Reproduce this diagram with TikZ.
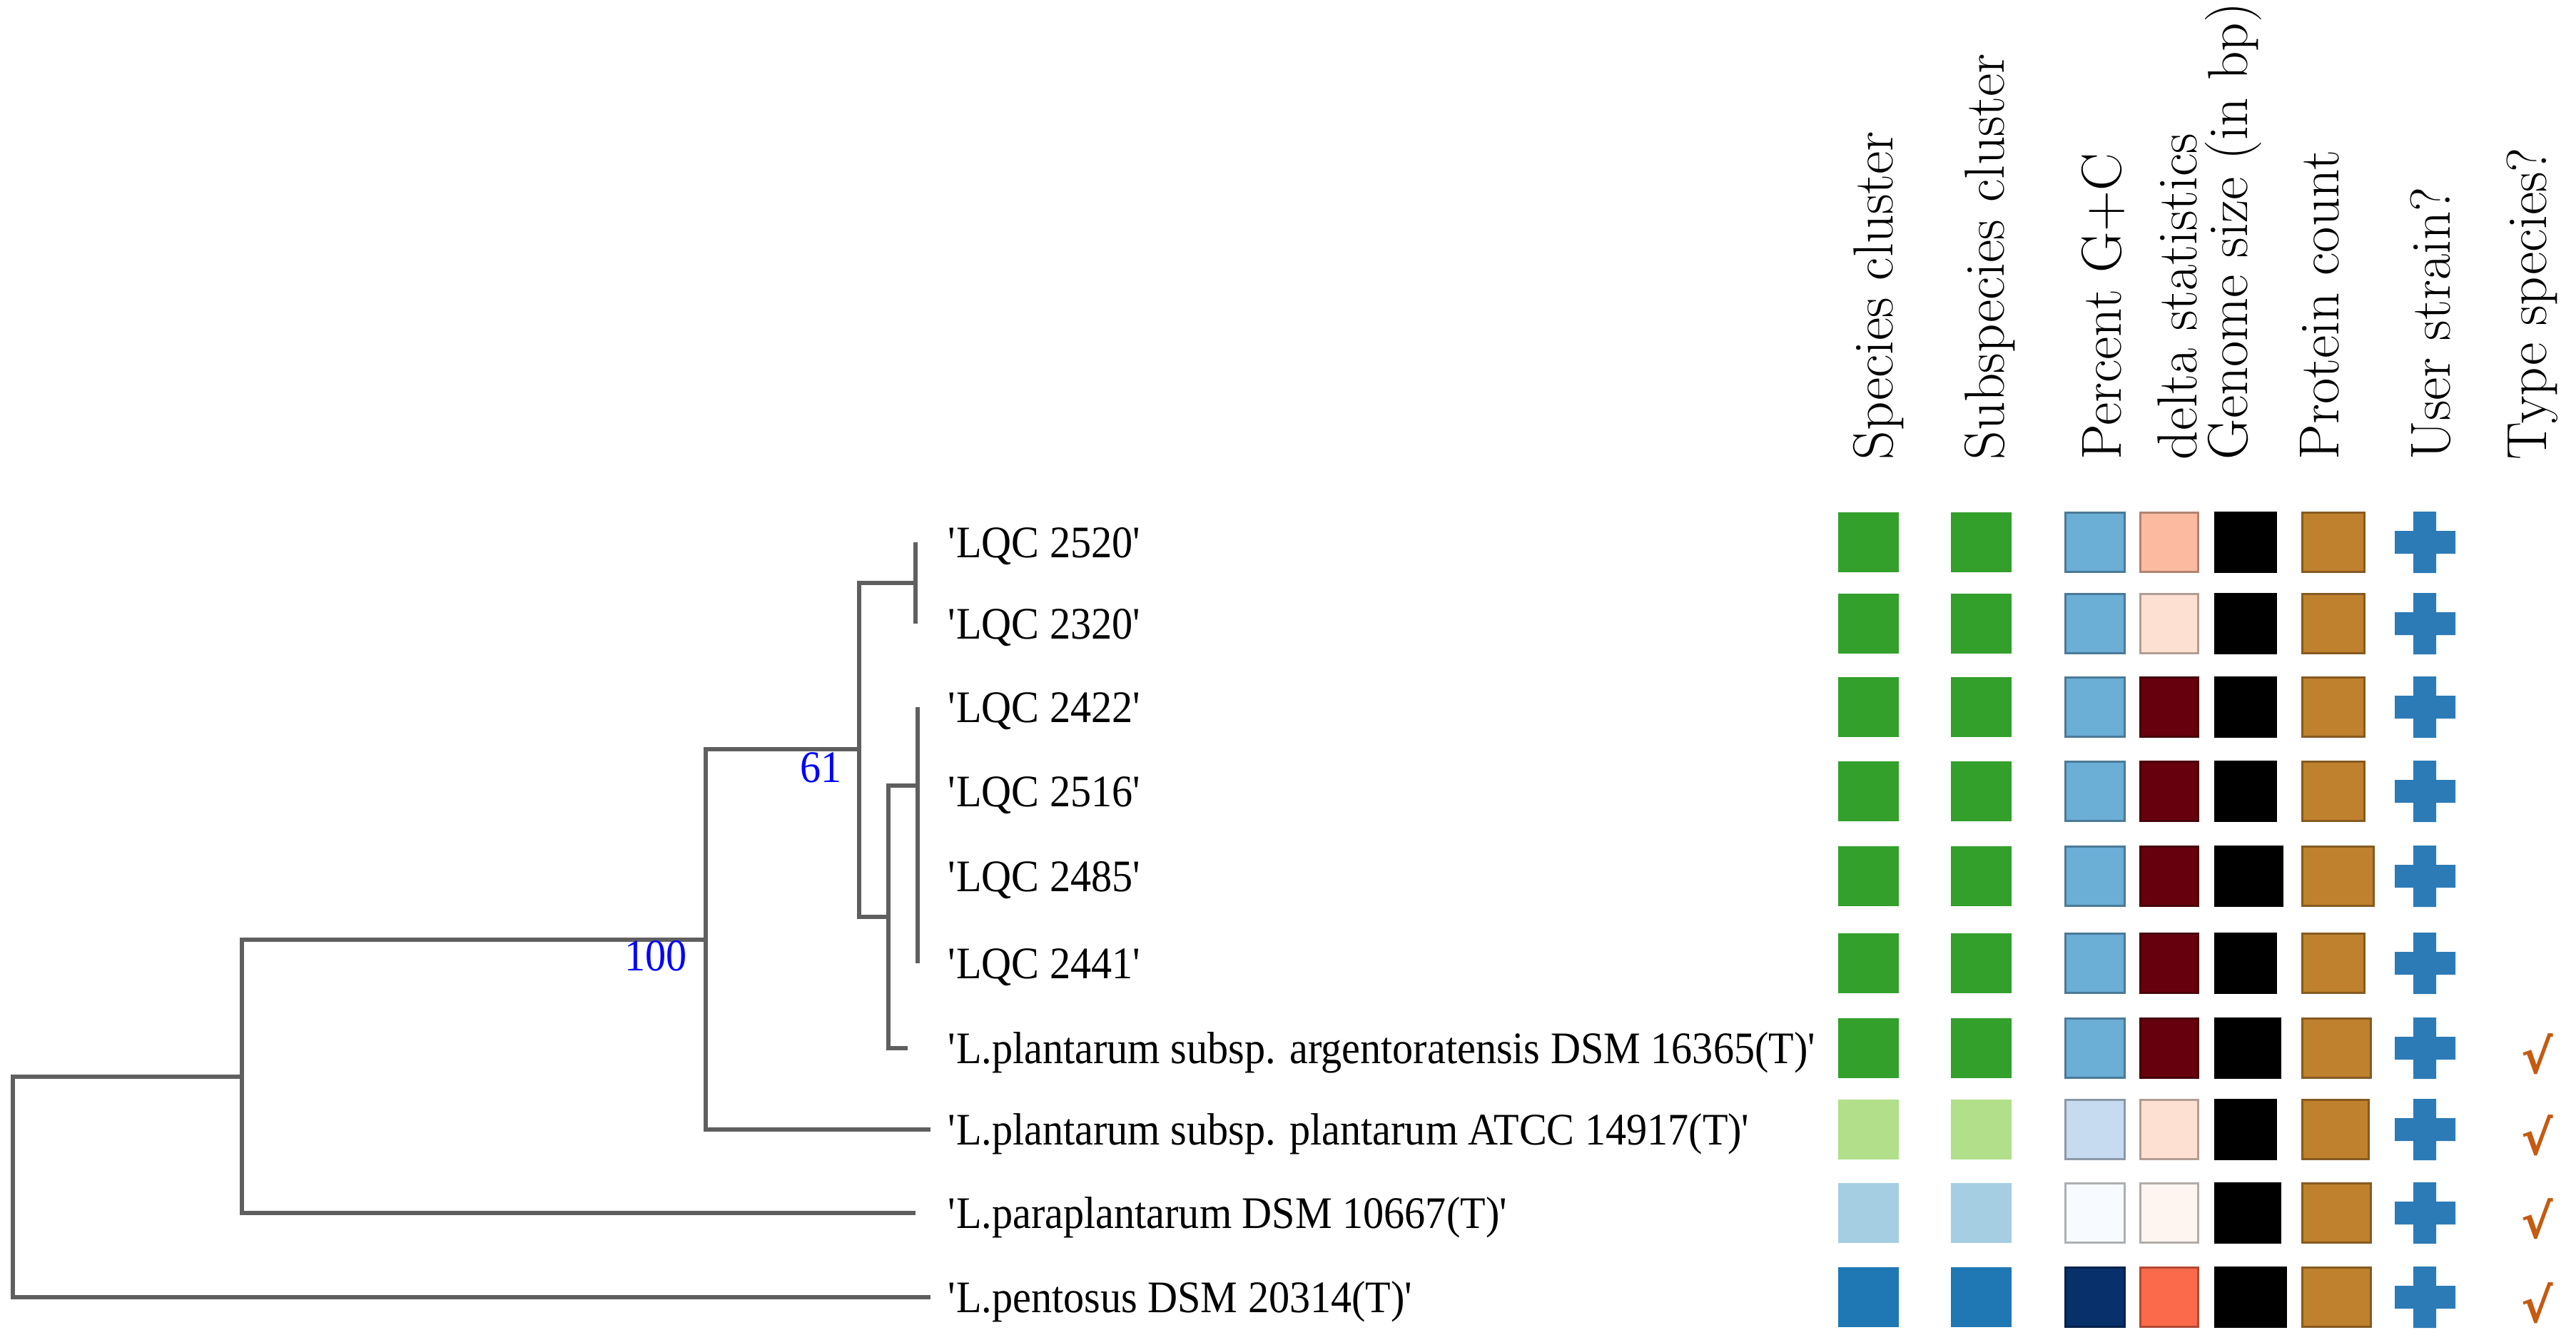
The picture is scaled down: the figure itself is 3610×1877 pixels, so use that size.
\documentclass[tikz,border=0pt]{standalone}
\usepackage{fontspec}
\newfontfamily\labfont[FakeStretch=0.92]{Liberation Serif}
\newfontfamily\symfont{DejaVu Sans}
\usetikzlibrary{positioning}
\definecolor{treegray}{HTML}{5F5F5F}
\definecolor{spdark}{HTML}{33A02C}
\definecolor{splight}{HTML}{B2DF8A}
\definecolor{sppale}{HTML}{A6CEE3}
\definecolor{spblue}{HTML}{1F78B4}
\definecolor{gcmid}{HTML}{6BAED6}
\definecolor{gclight}{HTML}{C6DBEF}
\definecolor{gcpale}{HTML}{F7FBFF}
\definecolor{gcdark}{HTML}{08306B}
\definecolor{dlsalmon}{HTML}{FCBBA1}
\definecolor{dlrose}{HTML}{FEE0D2}
\definecolor{dldark}{HTML}{67000D}
\definecolor{dlpale}{HTML}{FFF5F0}
\definecolor{dlred}{HTML}{FB6A4A}
\definecolor{protbrown}{HTML}{BF812D}
\definecolor{plusblue}{HTML}{2C7BB6}
\definecolor{tickorange}{HTML}{C55A11}
\newcommand{\qt}[1]{\textquotesingle#1\textquotesingle}
\tikzset{
  branch/.style={draw=treegray, line width=0.55mm},
  leaf/.style={anchor=base west, inner sep=0pt, font=\labfont\fontsize{18}{20}\selectfont},
  boot/.style={anchor=north east, inner sep=0pt, text=blue, font=\labfont\fontsize{18}{20}\selectfont},
  head/.style={rotate=90, anchor=base west, inner sep=0pt, font=\fontsize{22.5}{26}\selectfont},
  sq/.style={fill=#1, inner sep=0pt, minimum width=8.5mm, minimum height=8.4mm},
  cell/.style={fill=#1, draw=#1!70!black, line width=0.25mm, inner sep=0pt, minimum height=8.3mm},
  tick/.style={inner sep=0pt, text=tickorange, font=\symfont\bfseries\fontsize{19}{21}\selectfont}
}
\begin{document}
\begin{tikzpicture}[x=0.1mm, y=-0.1mm]
\useasboundingbox (0,0) rectangle (3610,1877);
\coordinate (R) at (18,1663);
\coordinate (B) at (339,1509);
\coordinate (C) at (989,1317);
\coordinate (D) at (1204,1050);
\coordinate (E) at (1283,817);
\coordinate (F) at (1245,1285);
\coordinate (G) at (1286,1101);
\coordinate (t1) at (1283,760);
\coordinate (t2) at (1283,874);
\coordinate (t3) at (1286,991);
\coordinate (t4) at (1286,1109);
\coordinate (t5) at (1286,1228);
\coordinate (t6) at (1286,1350);
\coordinate (t7) at (1272,1469);
\coordinate (t8) at (1304,1583);
\coordinate (t9) at (1283,1700);
\coordinate (t10) at (1304,1818);
\draw[branch] (R) |- (B);
\draw[branch] (R) |- (t10);
\draw[branch] (B) |- (C);
\draw[branch] (B) |- (t9);
\draw[branch] (C) |- (D);
\draw[branch] (C) |- (t8);
\draw[branch] (D) |- (E);
\draw[branch] (D) |- (F);
\draw[branch] (E) |- (t1);
\draw[branch] (E) |- (t2);
\draw[branch] (F) |- (G);
\draw[branch] (F) |- (t7);
\draw[branch] (G) |- (t3);
\draw[branch] (G) |- (t4);
\draw[branch] (G) |- (t5);
\draw[branch] (G) |- (t6);
\node[boot] (b61) at (1180,1054) {61};
\node[boot] (b100) at (963,1318) {100};
\node[leaf] (l1) at (1328,781) {\qt{LQC 2520}};
\node[leaf] (l2) at (1328,895) {\qt{LQC 2320}};
\node[leaf] (l3) at (1328,1012) {\qt{LQC 2422}};
\node[leaf] (l4) at (1328,1130) {\qt{LQC 2516}};
\node[leaf] (l5) at (1328,1249) {\qt{LQC 2485}};
\node[leaf] (l6) at (1328,1371) {\qt{LQC 2441}};
\node[leaf] (l7) at (1328,1490) {\qt{L.plantarum subsp. argentoratensis DSM 16365(T)}};
\node[leaf] (l8) at (1328,1604) {\qt{L.plantarum subsp. plantarum ATCC 14917(T)}};
\node[leaf] (l9) at (1328,1721) {\qt{L.paraplantarum DSM 10667(T)}};
\node[leaf] (l10) at (1328,1839) {\qt{L.pentosus DSM 20314(T)}};
\node[head] (h1) at (2652,645) {Species cluster};
\node[head] (h2) at (2808,645) {Subspecies cluster};
\node[head] (h3) at (2972,645) {Percent G+C};
\node[head] (h4) at (3078,645) {delta statistics};
\node[head] (h5) at (3149,645) {Genome size (in bp)};
\node[head] (h6) at (3277,645) {Protein count};
\node[head] (h7) at (3433,645) {User strain?};
\node[head] (h8) at (3568,645) {Type species?};
\foreach \i/\y/\sp/\gc/\dl/\gw/\pw/\ts in {
  1/760/spdark/gcmid/dlsalmon/8.5/8.7/0,
  2/874/spdark/gcmid/dlrose/8.5/8.7/0,
  3/991/spdark/gcmid/dldark/8.5/8.7/0,
  4/1109/spdark/gcmid/dldark/8.5/8.7/0,
  5/1228/spdark/gcmid/dldark/9.4/10.0/0,
  6/1350/spdark/gcmid/dldark/8.5/8.7/0,
  7/1469/spdark/gcmid/dldark/9.1/9.6/1,
  8/1583/splight/gclight/dlrose/8.5/9.3/1,
  9/1700/sppale/gcpale/dlpale/9.1/9.6/1,
  10/1818/spblue/gcdark/dlred/9.9/9.6/1}
{
  \node[sq=\sp] (sp\i) at (2618,\y) {};
  \node[sq=\sp] (ss\i) at (2776,\y) {};
  \node[cell=\gc, minimum width=8.3mm] (gc\i) at (2936,\y) {};
  \node[cell=\dl, minimum width=8.1mm] (dl\i) at (3040,\y) {};
  \node[cell=black, minimum width=\gw mm, anchor=west] (gs\i) at (3103,\y) {};
  \node[cell=protbrown, minimum width=\pw mm, anchor=west] (pc\i) at (3225,\y) {};
  \fill[plusblue] (3356,\y-16) rectangle (3441,\y+16) (3382,\y-43) rectangle (3414,\y+43);
  \ifnum\ts=1 \node[tick] (ts\i) at (3556,\y+8) {√}; \fi
}
\end{tikzpicture}
\end{document}
